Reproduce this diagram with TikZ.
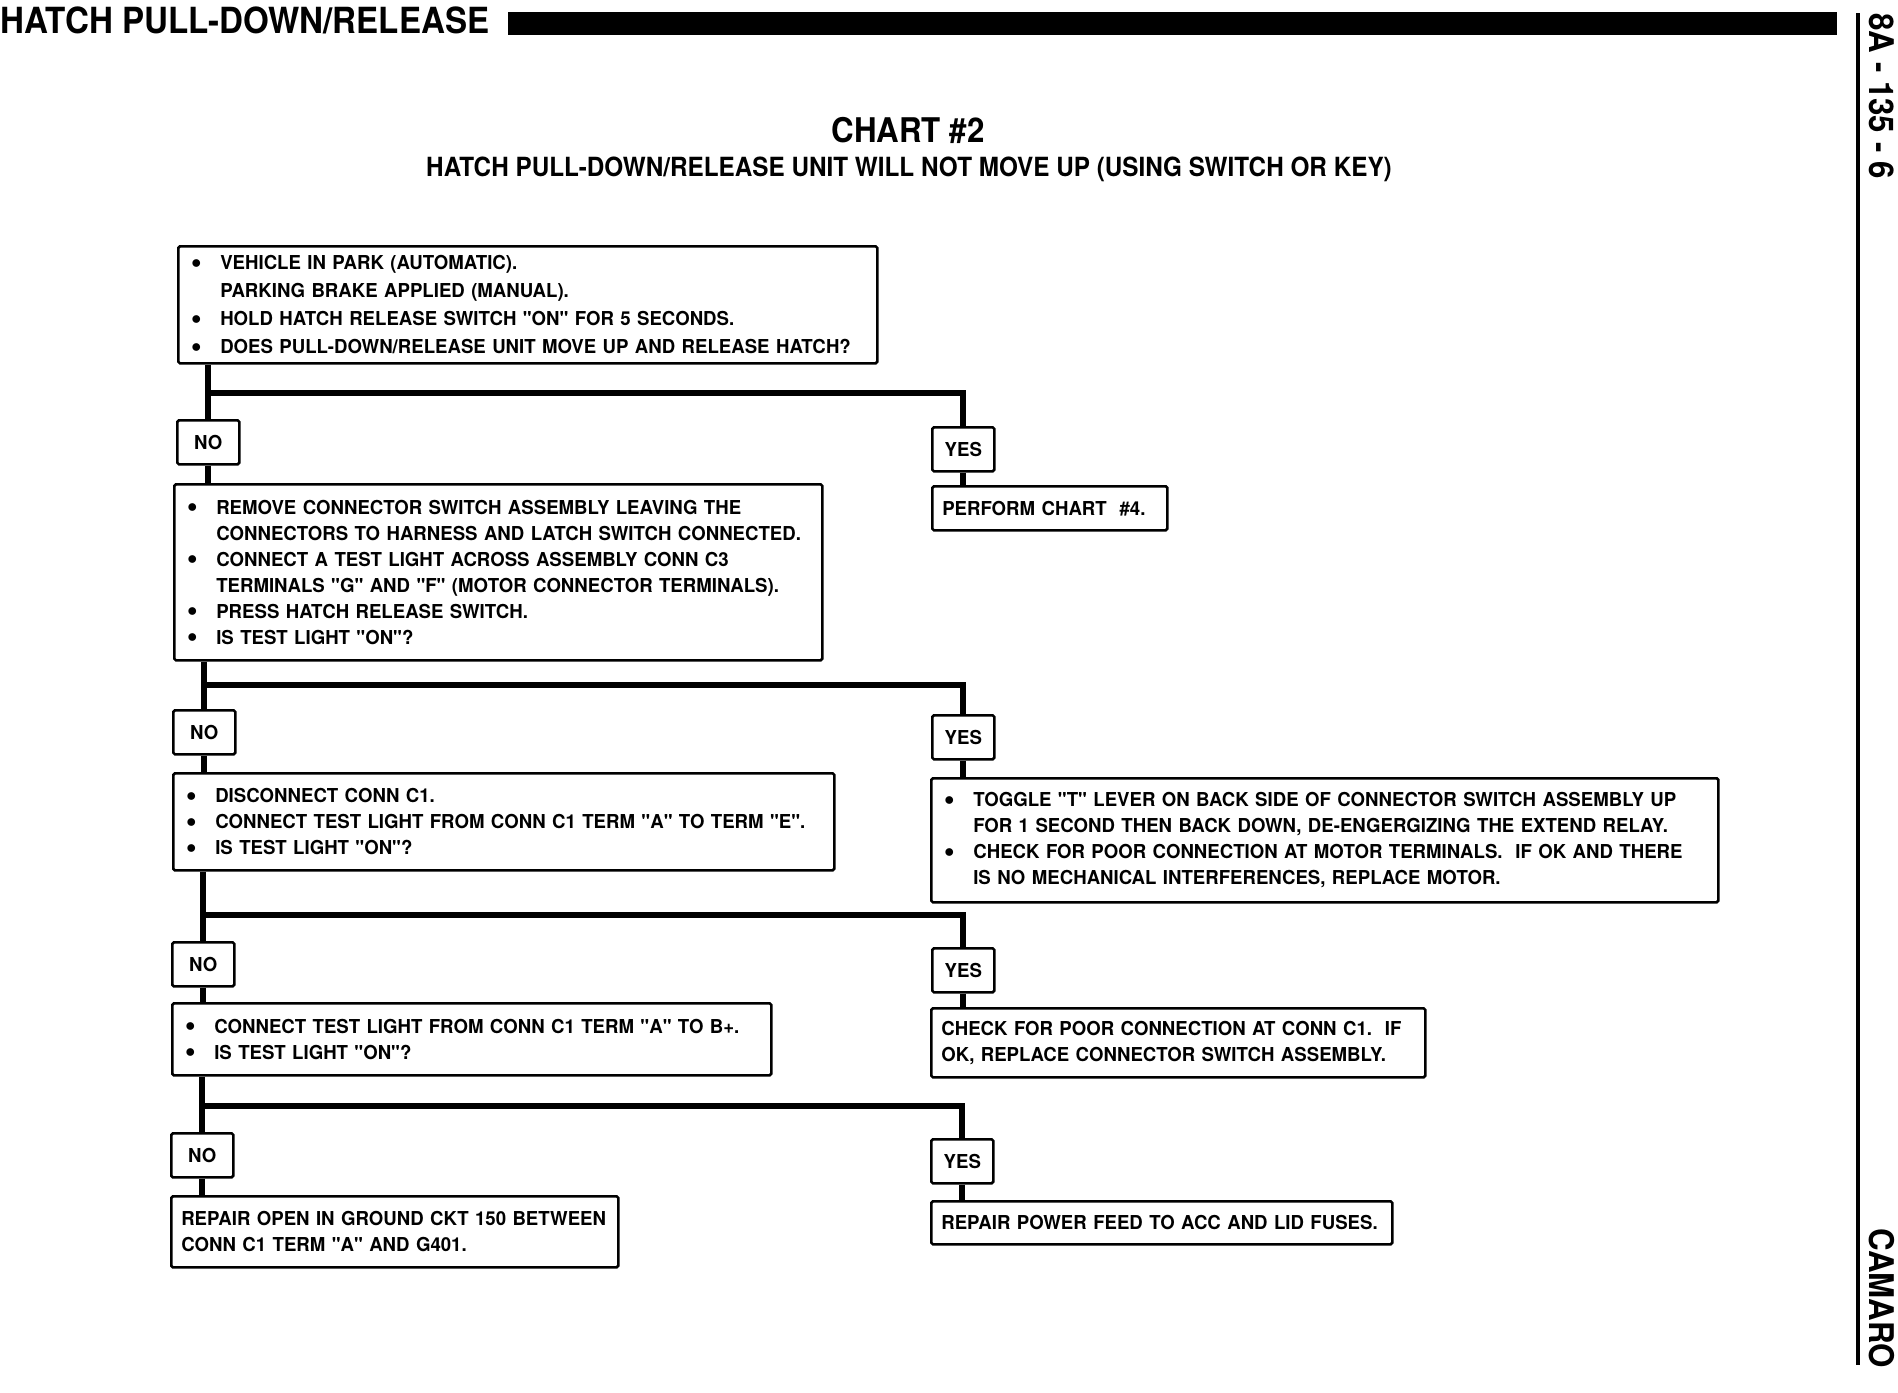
\documentclass[tikz,border=0pt]{standalone}
\usepackage{fontspec}
\setmainfont{TeX Gyre Heros}
\newfontfamily\chartfont{TeX Gyre Heros}[FakeStretch=0.97]
\newfontfamily\headfont{TeX Gyre Heros}[FakeStretch=0.92]
\tikzset{
  stepbox/.style = {draw, line width=1.3pt, rounded corners=0.8pt, anchor=north west,
                    inner xsep=5pt, inner ysep=2pt, align=left,
                    font=\chartfont\bfseries\fontsize{9.6}{13}\selectfont},
  ansbox/.style  = {draw, line width=1.3pt, rounded corners=0.8pt, anchor=north west,
                    minimum width=31pt, minimum height=22pt, inner sep=0pt,
                    font=\chartfont\bfseries\fontsize{9.6}{13}\selectfont},
  flow/.style    = {line width=3pt},
  sidelab/.style = {rotate=-90, anchor=base west, inner sep=0pt,
                    font=\headfont\bfseries\fontsize{17}{20}\selectfont},
}
\newcommand\bul{\makebox[16pt][l]{\hspace{1.5pt}\raisebox{0.8pt}{$\bullet$}}}
\newcommand\ind{\hspace*{16pt}}
\begin{document}
\begin{tikzpicture}[x=0.5pt, y=-0.5pt]
\useasboundingbox (0,0) rectangle (1898,1392);
\node[anchor=base west, inner sep=0pt, font=\headfont\bfseries\fontsize{18}{20}\selectfont] (head) at (0,33) {HATCH PULL-DOWN/RELEASE};
\fill (508,12) rectangle (1837,35);
\draw[line width=1.6pt] (1858,13) -- (1858,1365);
\node[sidelab] (page) at (1869,13) {8A - 135 - 6};
\node[sidelab] (car) at (1869,1228) {CAMARO};
\node[anchor=base, inner sep=0pt, font=\headfont\bfseries\fontsize{17}{19}\selectfont] (title) at (908,142) {CHART \#2};
\node[anchor=base, inner sep=0pt, font=\headfont\bfseries\fontsize{13.2}{16}\selectfont] (subtitle) at (909,176) {HATCH PULL-DOWN/RELEASE UNIT WILL NOT MOVE UP (USING SWITCH OR KEY)};

\node[stepbox, text width=339.5pt, minimum height=58.5pt, font=\chartfont\bfseries\fontsize{9.6}{14}\selectfont] (q1) at (177,245)
  {\bul VEHICLE IN PARK (AUTOMATIC).\\
   \ind PARKING BRAKE APPLIED (MANUAL).\\
   \bul HOLD HATCH RELEASE SWITCH "ON" FOR 5 SECONDS.\\
   \bul DOES PULL-DOWN/RELEASE UNIT MOVE UP AND RELEASE HATCH?};
\node[ansbox] (no1) at (176,419) {NO};
\node[ansbox] (yes1) at (931,426) {YES};
\node[stepbox, text width=107.5pt, minimum height=22pt] (r1) at (931,485) {PERFORM CHART\ \ \#4.};
\node[stepbox, text width=314pt, minimum height=88pt] (q2) at (173,483)
  {\bul REMOVE CONNECTOR SWITCH ASSEMBLY LEAVING THE\\
   \ind CONNECTORS TO HARNESS AND LATCH SWITCH CONNECTED.\\
   \bul CONNECT A TEST LIGHT ACROSS ASSEMBLY CONN C3\\
   \ind TERMINALS "G" AND "F" (MOTOR CONNECTOR TERMINALS).\\
   \bul PRESS HATCH RELEASE SWITCH.\\
   \bul IS TEST LIGHT "ON"?};
\node[ansbox] (no2) at (172,709) {NO};
\node[ansbox] (yes2) at (931,714) {YES};
\node[stepbox, text width=320.5pt, minimum height=48.5pt] (q3) at (172,772)
  {\bul DISCONNECT CONN C1.\\
   \bul CONNECT TEST LIGHT FROM CONN C1 TERM "A" TO TERM "E".\\
   \bul IS TEST LIGHT "ON"?};
\node[stepbox, text width=383.5pt, minimum height=62pt] (r2) at (930,777)
  {\bul TOGGLE "T" LEVER ON BACK SIDE OF CONNECTOR SWITCH ASSEMBLY UP\\
   \ind FOR 1 SECOND THEN BACK DOWN, DE-ENGERGIZING THE EXTEND RELAY.\\
   \bul CHECK FOR POOR CONNECTION AT MOTOR TERMINALS.\ \ IF OK AND THERE\\
   \ind IS NO MECHANICAL INTERFERENCES, REPLACE MOTOR.};
\node[ansbox] (no3) at (171,941) {NO};
\node[ansbox] (yes3) at (931,947) {YES};
\node[stepbox, text width=289.5pt, minimum height=36pt] (q4) at (171,1002)
  {\bul CONNECT TEST LIGHT FROM CONN C1 TERM "A" TO B+.\\
   \bul IS TEST LIGHT "ON"?};
\node[stepbox, text width=237pt, minimum height=34.5pt] (r3) at (930,1007)
  {CHECK FOR POOR CONNECTION AT CONN C1.\ \ IF\\
   OK, REPLACE CONNECTOR SWITCH ASSEMBLY.};
\node[ansbox] (no4) at (170,1132) {NO};
\node[ansbox] (yes4) at (930,1138) {YES};
\node[stepbox, text width=213.5pt, minimum height=35.5pt] (r4) at (170,1195)
  {REPAIR OPEN IN GROUND CKT 150 BETWEEN\\
   CONN C1 TERM "A" AND G401.};
\node[stepbox, text width=220.5pt, minimum height=21.5pt] (r5) at (930,1200)
  {REPAIR POWER FEED TO ACC AND LID FUSES.};

\coordinate (j1) at (0,393);
\coordinate (j2) at (0,685);
\coordinate (j3) at (0,915);
\coordinate (j4) at (0,1106);
\draw[flow] (q1.south -| no1.north) -- (no1.north);
\draw[flow] (no1.north |- j1) -| (yes1.north);
\draw[flow] (no1.south) -- (q2.north -| no1.south);
\draw[flow] (yes1.south) -- (r1.north -| yes1.south);
\draw[flow] (q2.south -| no2.north) -- (no2.north);
\draw[flow] (no2.north |- j2) -| (yes2.north);
\draw[flow] (no2.south) -- (q3.north -| no2.south);
\draw[flow] (yes2.south) -- (r2.north -| yes2.south);
\draw[flow] (q3.south -| no3.north) -- (no3.north);
\draw[flow] (no3.north |- j3) -| (yes3.north);
\draw[flow] (no3.south) -- (q4.north -| no3.south);
\draw[flow] (yes3.south) -- (r3.north -| yes3.south);
\draw[flow] (q4.south -| no4.north) -- (no4.north);
\draw[flow] (no4.north |- j4) -| (yes4.north);
\draw[flow] (no4.south) -- (r4.north -| no4.south);
\draw[flow] (yes4.south) -- (r5.north -| yes4.south);
\end{tikzpicture}
\end{document}
